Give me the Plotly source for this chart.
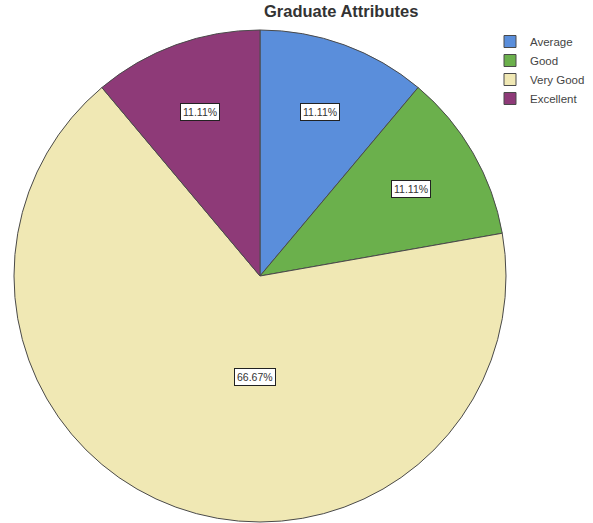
import math
import plotly.graph_objects as go

categories = ["Average", "Good", "Very Good", "Excellent"]
values = [11.11, 11.11, 66.67, 11.11]
colors = ["#5a8edb", "#6bb04c", "#f0e8b4", "#8e3a78"]
title_text = "Graduate Attributes"

W, H = 593, 523
dom_x = [14 / W, 506 / W]
dom_y = [1 - 522 / H, 1 - 30 / H]

fig = go.Figure(go.Pie(
    labels=categories,
    values=values,
    sort=False,
    direction="clockwise",
    rotation=0,
    marker=dict(colors=colors, line=dict(color="#4a4a4a", width=1)),
    textinfo="none",
    hoverinfo="label+percent",
    domain=dict(x=dom_x, y=dom_y),
))

# label boxes placed from the data's cumulative angles
cx = (dom_x[0] + dom_x[1]) / 2
cy = (dom_y[0] + dom_y[1]) / 2
rx = (dom_x[1] - dom_x[0]) / 2
ry = (dom_y[1] - dom_y[0]) / 2
total = sum(values)
cum = 0.0
annotations = []
for v in values:
    frac = v / total
    mid = (cum + frac / 2) * 2 * math.pi
    cum += frac
    rf = 0.71 if frac < 0.5 else 0.41
    if frac >= 0.5:
        mid -= 0.3
    annotations.append(dict(
        x=cx + rf * rx * math.sin(mid),
        y=cy + rf * ry * math.cos(mid),
        xref="paper", yref="paper",
        xanchor="center", yanchor="middle",
        text=f"{frac * 100:.2f}%",
        showarrow=False,
        bgcolor="white",
        bordercolor="#222222",
        borderwidth=1,
        borderpad=2,
        font=dict(family="Liberation Sans, Arial, sans-serif", size=10.5, color="#333333"),
    ))

annotations.append(dict(
    x=341 / W, y=1 - 11 / H, xref="paper", yref="paper",
    xanchor="center", yanchor="middle",
    text=f"<b>{title_text}</b>", showarrow=False,
    font=dict(family="Liberation Sans, Arial, sans-serif", size=16.5, color="#333333"),
))

fig.update_layout(
    width=W, height=H,
    margin=dict(l=0, r=0, t=0, b=0),
    paper_bgcolor="white",
    plot_bgcolor="white",
    showlegend=True,
    legend=dict(
        x=490 / W, y=1 - 27 / H, xanchor="left", yanchor="top",
        font=dict(family="Liberation Sans, Arial, sans-serif", size=11.5, color="#444444"),
        bgcolor="rgba(0,0,0,0)",
        tracegroupgap=0,
    ),
    annotations=annotations,
)

fig.write_html("out.html", config={"displayModeBar": False},
               post_script="document.body.style.margin='0px';")
